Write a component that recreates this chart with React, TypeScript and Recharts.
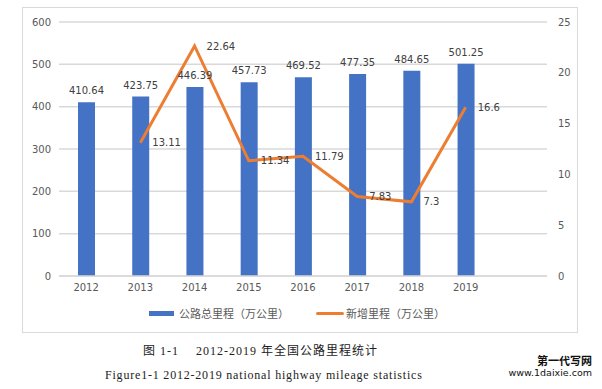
import { ComposedChart, Bar, Line, XAxis, YAxis, CartesianGrid, LabelList } from "recharts";

const YEARS = ["2012", "2013", "2014", "2015", "2016", "2017", "2018", "2019", ""];
const TOTAL_MILEAGE = [410.64, 423.75, 446.39, 457.73, 469.52, 477.35, 484.65, 501.25, null];
const NEW_MILEAGE = [null, 13.11, 22.64, 11.34, 11.79, 7.83, 7.3, 16.6, null];
const LEFT_TICKS = [0, 100, 200, 300, 400, 500, 600];
const RIGHT_TICKS = [0, 5, 10, 15, 20, 25];

const data = YEARS.map((year, i) => ({
  year,
  total: TOTAL_MILEAGE[i],
  added: NEW_MILEAGE[i],
}));

const FONT = "'DejaVu Sans', sans-serif";
const tick = { fontSize: 10, fill: "#595959", fontFamily: FONT };
const fmt = (v: any) => (v == null ? "" : String(v));

export default function App() {
  return (
    <div style={{ position: "absolute", left: 0, top: 0, width: 602, height: 389, background: "#fff", overflow: "hidden" }}>
      <div style={{ position: "absolute", left: 22, top: 7, width: 554, height: 324, border: "1px solid #D9D9D9" }} />
      <div style={{ position: "absolute", left: 0, top: 0 }}>
        <ComposedChart width={602} height={300} data={data} margin={{ top: 22, right: 20, bottom: 4, left: 0 }}>
          <CartesianGrid yAxisId="left" vertical={false} stroke="#D9D9D9" strokeWidth={1.5} />
          <XAxis dataKey="year" tick={tick} tickLine={false} axisLine={{ stroke: "#D9D9D9", strokeWidth: 1.5 }} height={20} interval={0} />
          <YAxis yAxisId="left" domain={[0, 600]} ticks={LEFT_TICKS} tick={tick} tickLine={false} axisLine={false} width={59} />
          <YAxis yAxisId="right" orientation="right" domain={[0, 25]} ticks={RIGHT_TICKS} tick={tick} tickLine={false} axisLine={false} width={35} tickMargin={5} />
          <Bar yAxisId="left" dataKey="total" fill="#4472C4" barSize={17} isAnimationActive={false}>
            <LabelList dataKey="total" position="top" offset={8} formatter={fmt} style={{ fontSize: 10, fill: "#404040", fontFamily: FONT }} />
          </Bar>
          <Line yAxisId="right" dataKey="added" stroke="#ED7D31" strokeWidth={3} dot={false} isAnimationActive={false}>
            <LabelList dataKey="added" position="right" offset={12} formatter={fmt} style={{ fontSize: 10, fill: "#404040", fontFamily: FONT }} />
          </Line>
        </ComposedChart>
      </div>
      <div style={{ position: "absolute", top: 305, left: 149, display: "flex", alignItems: "center", fontFamily: "'Noto Sans CJK SC', sans-serif", fontSize: 11, color: "#595959", whiteSpace: "nowrap" }}>
        <span style={{ display: "inline-block", width: 25, height: 5, background: "#4472C4", marginRight: 5 }} />
        <span>公路总里程（万公里）</span>
        <span style={{ display: "inline-block", width: 28, height: 3, background: "#ED7D31", borderRadius: 2, marginLeft: 27, marginRight: 2 }} />
        <span>新增里程（万公里）</span>
      </div>
      <div style={{ position: "absolute", top: 341, left: 143, fontFamily: "'Liberation Serif', 'Noto Sans CJK SC', serif", fontSize: 12, color: "#222", whiteSpace: "pre", letterSpacing: 1 }}>
        {"图 1-1　 2012-2019 年全国公路里程统计"}
      </div>
      <div style={{ position: "absolute", top: 368, left: 105, fontFamily: "'Liberation Serif', serif", fontSize: 12, color: "#222", whiteSpace: "nowrap", letterSpacing: 0.8 }}>
        Figure1-1 2012-2019 national highway mileage statistics
      </div>
      <div style={{ position: "absolute", top: 354, right: 10, fontFamily: "'Noto Sans CJK SC', sans-serif", fontSize: 11, fontWeight: 700, lineHeight: "12px", color: "#111", whiteSpace: "nowrap" }}>
        第一代写网
      </div>
      <div style={{ position: "absolute", top: 367, right: 10, fontFamily: "'DejaVu Sans', sans-serif", fontSize: 9.5, lineHeight: "11px", color: "#111", whiteSpace: "nowrap" }}>
        www.1daixie.com
      </div>
    </div>
  );
}
